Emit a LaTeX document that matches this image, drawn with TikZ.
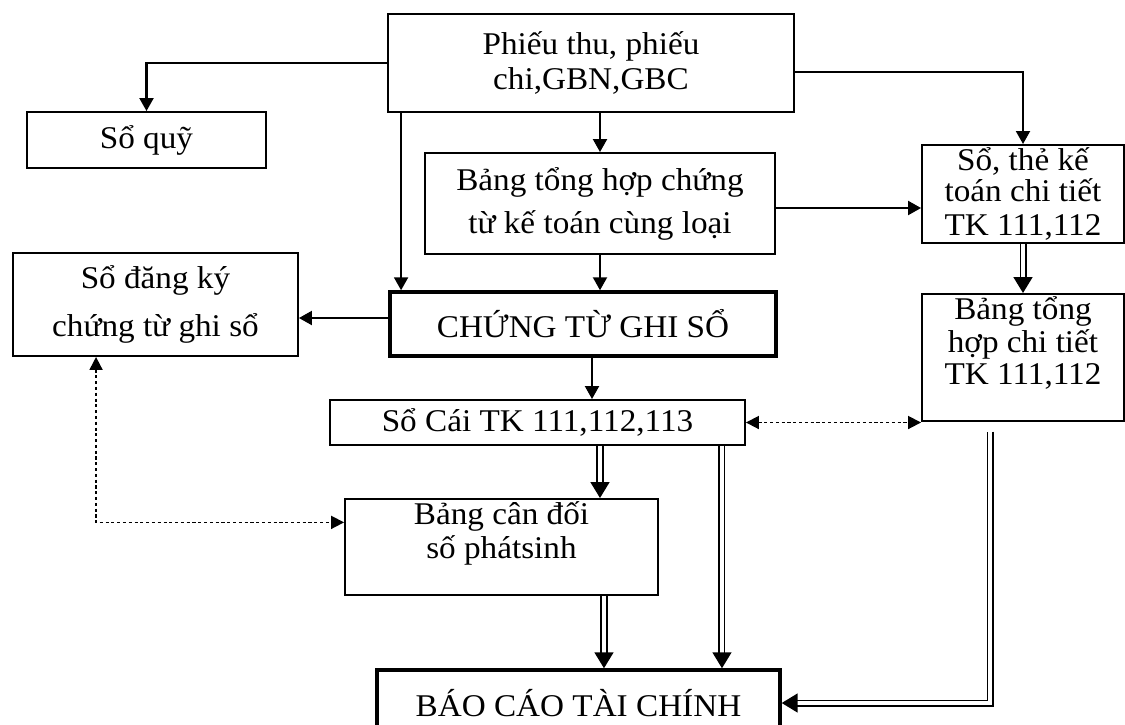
\documentclass[tikz,border=0pt]{standalone}
\usepackage{fontspec}
\setmainfont{Liberation Serif}[FakeStretch=1.05]
\usetikzlibrary{positioning,arrows.meta}

\begin{document}
\begin{tikzpicture}[x=0.02cm,y=-0.02cm,
                    box/.style={draw,line width=1.1pt,inner sep=1.5pt,align=center,
                                font=\fontsize{18}{19.5}\selectfont},
                    bar/.style={-{Triangle[length=2.6mm,width=2.8mm]},line width=1.2pt},
                    dbar/.style={-{Triangle[length=3.2mm,width=3.8mm]},double,
                                 double distance=2pt,line width=1pt},
                    dotbar/.style={{Triangle[length=2.6mm,width=2.6mm]}-{Triangle[length=2.6mm,width=2.6mm]},
                                   line width=1pt,dash pattern=on 1.8pt off 1.5pt}]

  \useasboundingbox (0,0) rectangle (1125,724);

  \node[box,minimum width=8.12cm,minimum height=1.96cm] (phieu)  at (591,63)    {Phiếu thu, phiếu\\chi,GBN,GBC};
  \node[box,minimum width=4.78cm,minimum height=1.12cm] (soquy)  at (146.5,140) {Sổ quỹ};
  \node[box,minimum width=7cm,minimum height=2.02cm]    (bangth) at (600,203.5) {Bảng tổng hợp chứng\\[5pt]từ kế toán cùng loại};
  \node[box,minimum width=4.04cm,minimum height=1.96cm] (sothe)  at (1023,194)  {Sổ, thẻ kế\\[-2pt]toán chi tiết\\TK 111,112};
  \node[box,minimum width=4.04cm,text depth=19pt,anchor=north] (bangct) at (1023,293) {Bảng tổng\\[-1pt]hợp chi tiết\\[-1pt]TK 111,112};
  \node[box,minimum width=5.7cm,minimum height=2.06cm]  (sodk)   at (155.5,304.5) {Sổ đăng ký\\[8pt]chứng từ ghi sổ};
  \node[box,line width=2pt,minimum width=7.72cm,minimum height=1.28cm] (ctgs) at (583,324) {CHỨNG TỪ GHI SỔ};
  \node[box,minimum width=8.3cm,minimum height=0.9cm]   (socai)  at (537.5,422.5) {Sổ Cái TK 111,112,113};
  \node[box,minimum width=6.26cm,text depth=19pt,anchor=north] (bangcd) at (501.5,498) {Bảng cân đối\\số phátsinh};
  \node[box,line width=2pt,minimum width=8.06cm,minimum height=1.32cm] (baocao) at (578.5,703) {BÁO CÁO TÀI CHÍNH};

  \draw[bar] (phieu.west) -| (soquy.north);
  \draw[bar] ([yshift=-0.18cm]phieu.east) -| (sothe.north);
  \draw[bar] (bangth.north |- phieu.south) -- (bangth.north);
  \draw[bar] ([xshift=0.28cm]phieu.south west) -- ([xshift=0.28cm]phieu.south west |- ctgs.north);
  \draw[bar] (bangth.south) -- (bangth.south |- ctgs.north);
  \draw[bar] ([yshift=-0.09cm]bangth.east) -- ([yshift=-0.09cm]bangth.east -| sothe.west);
  \draw[bar] ([yshift=0.12cm]ctgs.west) -- ([yshift=0.12cm]ctgs.west -| sodk.east);
  \draw[bar] ([xshift=0.18cm]ctgs.south) -- ([xshift=0.18cm]ctgs.south |- socai.north);

  \draw[dbar] (sothe.south) -- (bangct.north);
  \draw[dotbar] (socai.east) -- (socai.east -| bangct.west);
  \draw[dotbar] ([xshift=1.68cm]sodk.south west) |- ([yshift=0.49cm]bangcd.west);

  \draw[dbar] ([xshift=1.25cm]socai.south) -- ([xshift=1.25cm]socai.south |- bangcd.north);
  \draw[dbar] ([xshift=3.69cm]socai.south) -- ([xshift=3.69cm]socai.south |- baocao.north);
  \draw[dbar] ([xshift=2.05cm]bangcd.south) -- ([xshift=2.05cm]bangcd.south |- baocao.north);
  \draw[dbar] ([xshift=-0.66cm,yshift=-0.2cm]bangct.south) |- (baocao.east);
\end{tikzpicture}
\end{document}
